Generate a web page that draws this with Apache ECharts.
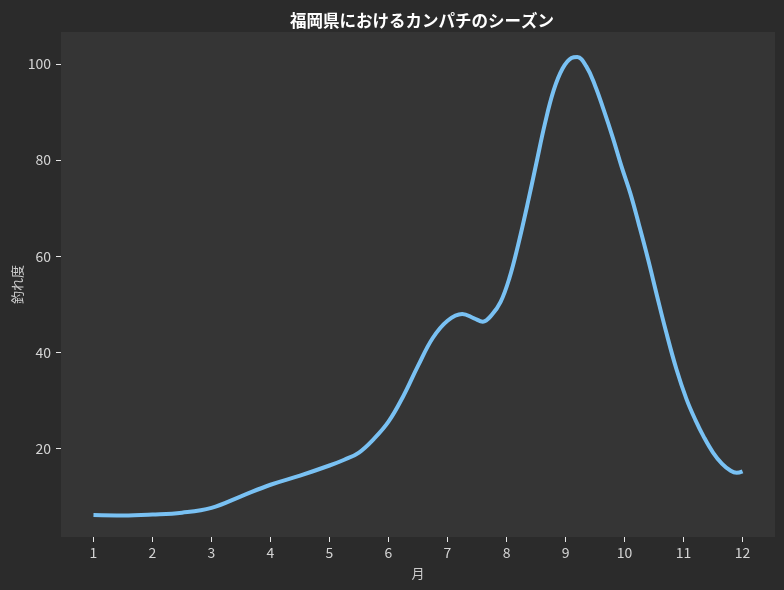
<!DOCTYPE html>
<html>
<head>
<meta charset="utf-8">
<script src="https://cdn.jsdelivr.net/npm/echarts@6/dist/echarts.min.js"></script>
<style>
html,body{margin:0;padding:0;background:#2b2b2b;}
#chart{width:784px;height:590px;}
</style>
</head>
<body>
<div id="chart"></div>
<script>
const months = [1.0,1.5,2.0,2.5,3.0,3.5,4.0,4.5,5.0,5.25,5.5,5.75,6.0,6.25,6.5,6.75,7.0,7.25,7.45,7.6,7.75,7.9,8.05,8.2,8.35,8.5,8.65,8.8,8.95,9.1,9.2,9.35,9.5,9.65,9.8,9.95,10.1,10.25,10.4,10.55,10.7,10.88,11.05,11.2,11.35,11.5,11.65,11.8,11.9,12.0];
const values = [6.2,6.1,6.3,6.7,7.7,10.1,12.5,14.4,16.5,17.7,19.2,22.0,25.6,30.9,37.2,43.0,46.6,48.0,47.1,46.4,47.8,50.5,55.5,62.5,70.5,79.0,87.5,94.5,99.0,101.2,101.4,99.5,95.5,90.3,84.7,78.6,73.0,66.3,59.3,51.8,44.5,36.5,30.3,26.0,22.3,19.2,16.9,15.4,15.0,15.3];
const xTicks = [1,2,3,4,5,6,7,8,9,10,11,12];
const yTicks = [20,40,60,80,100];
const titleText = '福岡県におけるカンパチのシーズン';
const xName = '月';
const yName = '釣れ度';

const font = '"Noto Sans CJK JP", "Noto Sans", sans-serif';
const chart = echarts.init(document.getElementById('chart'));
chart.setOption({
  backgroundColor: '#2b2b2b',
  animation: false,
  title: {
    text: titleText, left: 417, top: 7, textAlign: 'center',
    textStyle: {color: '#ffffff', fontSize: 16.5, fontWeight: 'bold', fontFamily: font}
  },
  grid: {left: 61, top: 32, right: 9, bottom: 53, show: true, backgroundColor: '#353535', borderWidth: 0, containLabel: false, outerBoundsMode: 'none'},
  xAxis: {
    type: 'value', min: 0.45, max: 12.55,
    name: xName, nameLocation: 'middle', nameGap: 30, nameMoveOverlap: false,
    nameTextStyle: {color: '#cccccc', fontSize: 13, fontFamily: font},
    axisLine: {show: false},
    axisTick: {show: true, length: 5, lineStyle: {color: '#e6e6e6'}, customValues: xTicks},
    axisLabel: {color: '#d4d4d4', fontSize: 14, fontFamily: font, margin: 9, customValues: xTicks},
    splitLine: {show: false}
  },
  yAxis: {
    type: 'value', min: 1.64, max: 106.6,
    name: yName, nameLocation: 'middle', nameGap: 37, nameRotate: 90, nameMoveOverlap: false,
    nameTextStyle: {color: '#cccccc', fontSize: 13, fontFamily: font},
    axisLine: {show: false},
    axisTick: {show: true, length: 5, lineStyle: {color: '#e6e6e6'}, customValues: yTicks},
    axisLabel: {color: '#d4d4d4', fontSize: 14, fontFamily: font, margin: 10, customValues: yTicks},
    splitLine: {show: false}
  },
  series: [{
    type: 'line', smooth: 0.4, showSymbol: false,
    data: months.map((m, i) => [m, values[i]]),
    lineStyle: {color: '#79c1f3', width: 4},
    itemStyle: {color: '#79c1f3'}
  }]
});
</script>
</body>
</html>
